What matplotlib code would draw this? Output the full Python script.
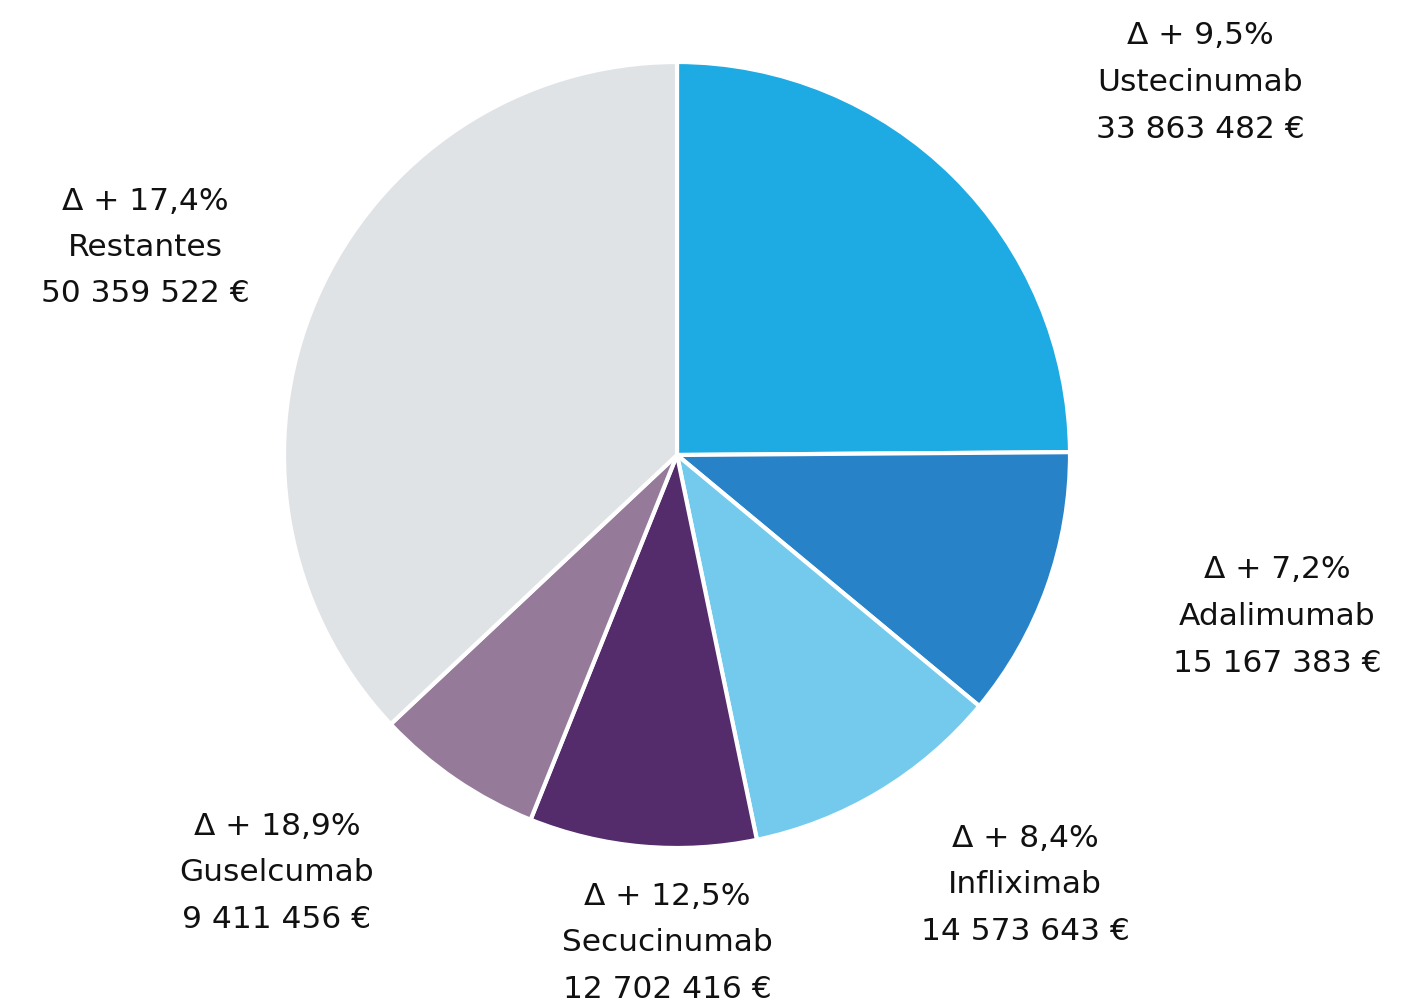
import matplotlib.pyplot as plt

names = ['Ustecinumab', 'Adalimumab', 'Infliximab', 'Secucinumab', 'Guselcumab', 'Restantes']
values = [33863482, 15167383, 14573643, 12702416, 9411456, 50359522]
growth = ['9,5', '7,2', '8,4', '12,5', '18,9', '17,4']
colors = ['#1eabe3', '#2882c8', '#73caec', '#542c6c', '#957a9a', '#e0e3e6']

# label block centres (pixels from top-left)
label_pos = [(1200, 36), (1277, 570), (1025, 838), (667, 896), (277, 826), (145, 201)]

W, H = 1407, 1005
fig = plt.figure(figsize=(W / 100, H / 100), dpi=100)
cx, cy, r = 677, 455, 393
ax = fig.add_axes([(cx - r) / W, 1 - (cy + r) / H, 2 * r / W, 2 * r / H])
ax.pie(values, colors=colors, startangle=90, counterclock=False,
       wedgeprops=dict(edgecolor='white', linewidth=3))
ax.set_xlim(-1, 1)
ax.set_ylim(-1, 1)
ax.set_aspect('equal')
ax.axis('off')

fam = ['DejaVu Sans']


def fmt(v):
    return f'{v:,}'.replace(',', ' ') + ' €'


for name, v, g, (x, y) in zip(names, values, growth, label_pos):
    lines = [f'Δ + {g}%', name, fmt(v)]
    for i, s in enumerate(lines):
        fig.text(x / W, 1 - (y + i * 46.5) / H, s, ha='center', va='center',
                 fontsize=22.5, family=fam, color='#111111')

fig.savefig('out.png', dpi=100)
